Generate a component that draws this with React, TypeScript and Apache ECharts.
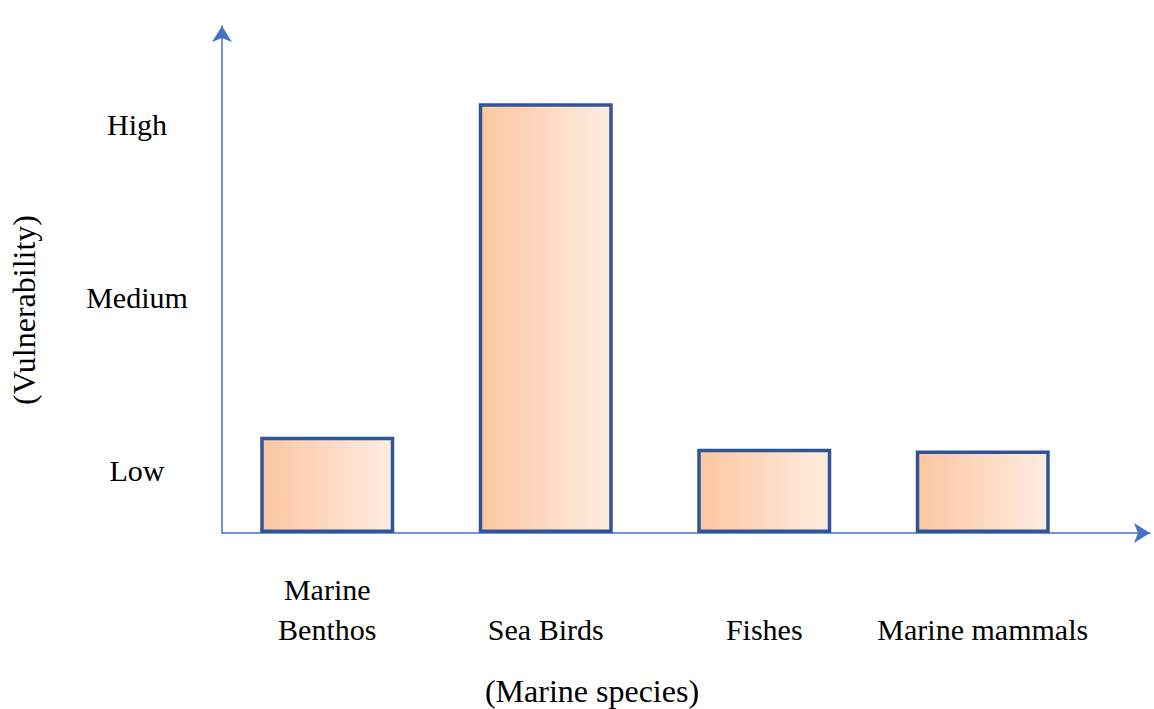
import React, { useEffect, useRef } from "react";
import * as echarts from "echarts";

// Species groups and their vulnerability scores (origin of the scale = axis line)
const categories = ["Marine\nBenthos", "Sea Birds", "Fishes", "Marine mammals"];
const vulnerability = [0.56, 2.5, 0.49, 0.48];

// Qualitative levels shown on the vertical axis
const levelLabels = ["Low", "Medium", "High"];
const levelValues = [0.366, 1.373, 2.374];

const FONT = "'Liberation Serif', 'Times New Roman', serif";
const AXIS_BLUE = "#4472c4";
const BAR_EDGE = "#2f5597";
const Y_MAX = 2.95;

export default function App() {
  const ref = useRef<HTMLDivElement>(null);

  useEffect(() => {
    if (!ref.current) return;
    const chart = echarts.init(ref.current, undefined, { renderer: "svg" });

    const levelOf = (v: number) => {
      const i = levelValues.findIndex((x) => Math.abs(x - v) < 1e-6);
      return i >= 0 ? levelLabels[i] : "";
    };

    chart.setOption({
      animation: false,
      backgroundColor: "#ffffff",
      textStyle: { fontFamily: FONT, color: "#000" },
      grid: [
        // bars and category labels
        { left: 218, top: 26, width: 874, bottom: 176 },
        // axis lines with arrow heads and level labels
        { left: 222, top: 26, right: 4, bottom: 176 },
      ],
      xAxis: [
        {
          type: "category",
          gridIndex: 0,
          data: categories,
          axisLine: { show: false },
          axisTick: { show: false },
          axisLabel: {
            fontFamily: FONT,
            fontSize: 30,
            lineHeight: 40,
            color: "#000",
            verticalAlign: "bottom",
            margin: 116,
            interval: 0,
          },
        },
        {
          type: "value",
          gridIndex: 1,
          min: 0,
          max: 1,
          axisLine: {
            show: true,
            onZero: false,
            symbol: ["none", "arrow"],
            symbolSize: [15, 16],
            lineStyle: { color: AXIS_BLUE, width: 1.5 },
          },
          axisTick: { show: false },
          axisLabel: { show: false },
          splitLine: { show: false },
        },
      ],
      yAxis: [
        {
          type: "value",
          gridIndex: 0,
          min: 0,
          max: Y_MAX,
          show: false,
        },
        {
          type: "value",
          gridIndex: 1,
          min: 0,
          max: Y_MAX,
          axisLine: {
            show: true,
            onZero: false,
            symbol: ["none", "arrow"],
            symbolSize: [15, 16],
            lineStyle: { color: AXIS_BLUE, width: 1.5 },
          },
          axisTick: { show: false },
          splitLine: { show: false },
          axisLabel: {
            customValues: levelValues,
            formatter: (v: number) => levelOf(v),
            fontFamily: FONT,
            fontSize: 30,
            color: "#000",
            align: "center",
            margin: 85,
          },
        },
      ],
      series: [
        {
          type: "bar",
          xAxisIndex: 0,
          yAxisIndex: 0,
          data: vulnerability,
          barWidth: 134,
          itemStyle: {
            color: new echarts.graphic.LinearGradient(0, 0, 1, 0, [
              { offset: 0, color: "#fdc6a0" },
              { offset: 1, color: "#feece2" },
            ]),
            borderColor: BAR_EDGE,
            borderWidth: 3.5,
          },
        },
      ],
      graphic: [
        {
          type: "text",
          x: 24,
          y: 310,
          rotation: Math.PI / 2,
          style: {
            text: "(Vulnerability)",
            font: `32px ${FONT}`,
            fill: "#000",
            align: "center",
            verticalAlign: "middle",
            textAlign: "center",
            textVerticalAlign: "middle",
          },
        },
        {
          type: "text",
          x: 592,
          y: 691,
          style: {
            text: "(Marine species)",
            font: `32px ${FONT}`,
            fill: "#000",
            align: "center",
            verticalAlign: "middle",
            textAlign: "center",
            textVerticalAlign: "middle",
          },
        },
      ],
    });

    return () => chart.dispose();
  }, []);

  return (
    <div
      ref={ref}
      style={{ position: "fixed", left: 0, top: 0, width: 1154, height: 709 }}
    />
  );
}
